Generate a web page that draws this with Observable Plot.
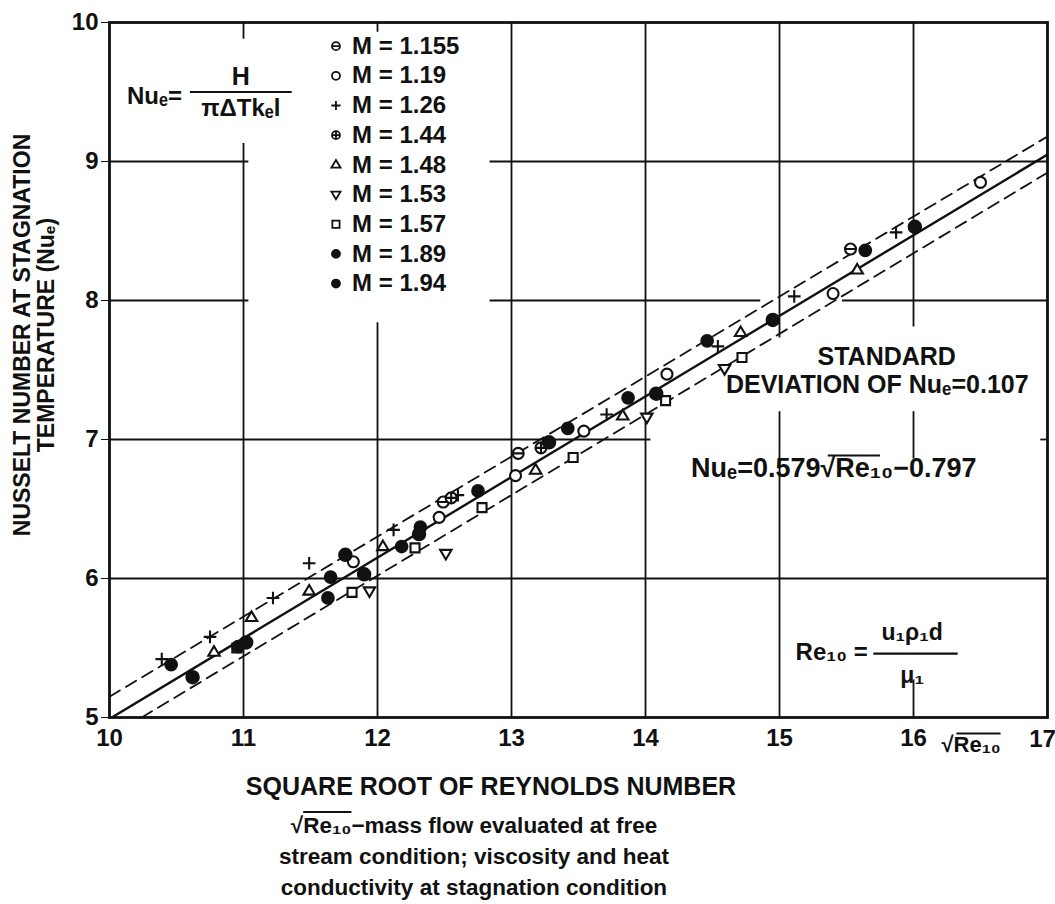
<!DOCTYPE html>
<html>
<head>
<meta charset="utf-8">
<script src="https://cdn.jsdelivr.net/npm/d3@7"></script>
<script src="https://cdn.jsdelivr.net/npm/@observablehq/plot@0.6"></script>
<style>
  body { margin: 0; background: #fff; }
  #wrap { position: relative; width: 1055px; height: 904px; }
  .below { position: absolute; left: 0; text-align: center; color: #111;
           font-family: "Liberation Sans", Arial, sans-serif; font-weight: bold; }
  #xtitle { top: 772px; width: 982px; font-size: 25px; line-height: 28px; }
  #note { top: 810px; width: 948px; font-size: 22.5px; line-height: 31px; }
  .ov { text-decoration: overline; }
</style>
</head>
<body>
<div id="wrap">
  <div id="chart"></div>
  <div class="below" id="xtitle">SQUARE ROOT OF REYNOLDS NUMBER</div>
  <div class="below" id="note">√<span class="ov">Re₁₀</span>−mass flow evaluated at free<br>stream condition; viscosity and heat<br>conductivity at stagnation condition</div>
</div>
<script>
// ---------- data ----------
const xTicks = [10, 11, 12, 13, 14, 15, 16];
const xLastTick = 17;
const yTicks = [5, 6, 7, 8, 9, 10];

const m1155x = [12.49, 13.05, 15.53];
const m1155y = [6.55, 6.90, 8.37];
const m119x = [11.82, 12.46, 13.03, 13.54, 14.16, 15.40, 16.50];
const m119y = [6.12, 6.44, 6.74, 7.06, 7.47, 8.05, 8.85];
const m126x = [10.39, 10.75, 11.22, 11.49, 12.12, 12.60, 13.71, 14.54, 15.11, 15.87];
const m126y = [5.42, 5.58, 5.86, 6.11, 6.35, 6.60, 7.18, 7.67, 8.03, 8.49];
const m144x = [12.55, 13.22];
const m144y = [6.58, 6.94];
const m148x = [10.78, 11.06, 11.49, 12.04, 13.18, 13.83, 14.71, 15.58];
const m148y = [5.47, 5.72, 5.91, 6.23, 6.78, 7.17, 7.77, 8.22];
const m153x = [11.94, 12.51, 14.01, 14.59];
const m153y = [5.91, 6.18, 7.16, 7.51];
const m157x = [10.95, 11.81, 12.28, 12.78, 13.46, 14.15, 14.72];
const m157y = [5.50, 5.90, 6.22, 6.51, 6.87, 7.28, 7.59];
const m189x = [10.46, 10.96, 11.63, 11.65, 12.18, 12.32, 12.75, 13.42, 13.87, 14.46, 15.64];
const m189y = [5.38, 5.51, 5.86, 6.01, 6.23, 6.37, 6.63, 7.08, 7.30, 7.71, 8.36];
const m194x = [10.62, 11.02, 11.76, 11.90, 12.31, 13.28, 14.08, 14.95, 16.01];
const m194y = [5.29, 5.54, 6.17, 6.03, 6.32, 6.98, 7.33, 7.86, 8.53];

const machLabels = ["M = 1.155", "M = 1.19", "M = 1.26", "M = 1.44", "M = 1.48", "M = 1.53", "M = 1.57", "M = 1.89", "M = 1.94"];

// correlation line Nu = 0.579 sqrt(Re) - 0.797 and its scatter band
const fitX = [10, 17];
const fitY = [4.99, 9.05];
const upperX = [10, 17];
const upperY = [5.15, 9.18];
const lowerX = [10.24, 17];
const lowerY = [5.0, 8.92];

// ---------- custom symbols ----------
const R = s => Math.sqrt(s / Math.PI);
const symCircleBar = { draw(c, s) { const r = R(s); c.moveTo(r, 0); c.arc(0, 0, r, 0, 2 * Math.PI); c.moveTo(-r, 0); c.lineTo(r, 0); } };
const symCirclePlus = { draw(c, s) { const r = R(s); c.moveTo(r, 0); c.arc(0, 0, r, 0, 2 * Math.PI); c.moveTo(-r, 0); c.lineTo(r, 0); c.moveTo(0, -r); c.lineTo(0, r); } };
const symCircle = { draw(c, s) { const r = R(s); c.moveTo(r, 0); c.arc(0, 0, r, 0, 2 * Math.PI); } };
const symPlus = { draw(c, s) { const r = R(s) * 1.15; c.moveTo(-r, 0); c.lineTo(r, 0); c.moveTo(0, -r); c.lineTo(0, r); } };
const symTriUp = { draw(c, s) { const r = R(s) * 1.2; c.moveTo(0, -r); c.lineTo(r * 0.95, r * 0.6); c.lineTo(-r * 0.95, r * 0.6); c.closePath(); } };
const symTriDown = { draw(c, s) { const r = R(s) * 1.2; c.moveTo(0, r); c.lineTo(r * 0.95, -r * 0.6); c.lineTo(-r * 0.95, -r * 0.6); c.closePath(); } };
const symSquare = { draw(c, s) { const r = R(s) * 0.9; c.rect(-r, -r, 2 * r, 2 * r); } };

const series = [
  { xs: m1155x, ys: m1155y, sym: symCircleBar, fill: "white", r: 5.5 },
  { xs: m119x, ys: m119y, sym: symCircle, fill: "white", r: 5.5 },
  { xs: m126x, ys: m126y, sym: symPlus, fill: "none", r: 5.5 },
  { xs: m144x, ys: m144y, sym: symCirclePlus, fill: "white", r: 5.5 },
  { xs: m148x, ys: m148y, sym: symTriUp, fill: "white", r: 5 },
  { xs: m153x, ys: m153y, sym: symTriDown, fill: "white", r: 5 },
  { xs: m157x, ys: m157y, sym: symSquare, fill: "white", r: 5 },
  { xs: m189x, ys: m189y, sym: symCircle, fill: "#111", r: 5.8 },
  { xs: m194x, ys: m194y, sym: symCircle, fill: "#111", r: 6.2 }
];

// ---------- grid (drafted with gaps around lettering) ----------
const vGrid = [
  { x: 11, y1: 5, y2: 9.13 }, { x: 11, y1: 9.88, y2: 10 },
  { x: 12, y1: 5, y2: 7.84 }, { x: 12, y1: 9.93, y2: 10 },
  { x: 13, y1: 5, y2: 10 }, { x: 14, y1: 5, y2: 10 },
  { x: 15, y1: 7.73, y2: 10 }, { x: 15, y1: 5, y2: 7.2 },
  { x: 16, y1: 7.81, y2: 10 }, { x: 16, y1: 6.86, y2: 7.2 }, { x: 16, y1: 5, y2: 5.27 }
];
const hGrid = [
  { y: 9, x1: 10, x2: 11.04 }, { y: 9, x1: 12.84, x2: 17 },
  { y: 8, x1: 10, x2: 11.04 }, { y: 8, x1: 12.84, x2: 14.86 }, { y: 8, x1: 15.47, x2: 17 },
  { y: 7, x1: 10, x2: 14.04 }, { y: 7, x1: 16.95, x2: 17 },
  { y: 6, x1: 10, x2: 17 }
];

const ink = "#111";
const font = "'Liberation Sans', Arial, sans-serif";

const pts = (s) => s.xs.map((x, i) => ({ x, y: s.ys[i] }));
const line = (xs, ys) => xs.map((x, i) => ({ x, y: ys[i] }));

// legend rows
const legTop = 9.83, legStep = 0.2135;
const legend = machLabels.map((t, i) => ({ t, i, y: legTop - i * legStep }));

const marks = [
  Plot.ruleX(vGrid, { x: "x", y1: "y1", y2: "y2", stroke: ink, strokeWidth: 1.8 }),
  Plot.ruleY(hGrid, { y: "y", x1: "x1", x2: "x2", stroke: ink, strokeWidth: 1.8 }),
  Plot.frame({ stroke: ink, strokeWidth: 2.8 }),
  Plot.line(line(upperX, upperY), { x: "x", y: "y", stroke: ink, strokeWidth: 1.8, strokeDasharray: "12,7" }),
  Plot.line(line(lowerX, lowerY), { x: "x", y: "y", stroke: ink, strokeWidth: 1.8, strokeDasharray: "12,7" }),
  Plot.line(line(fitX, fitY), { x: "x", y: "y", stroke: ink, strokeWidth: 2.4, clip: true }),
];
for (const s of series) {
  marks.push(Plot.dot(pts(s), { x: "x", y: "y", symbol: s.sym, r: s.r, fill: s.fill, stroke: ink, strokeWidth: 2.1 }));
}
// legend symbols + labels
series.forEach((s, i) => {
  marks.push(Plot.dot([legend[i]], { x: () => 11.69, y: "y", symbol: s.sym, r: 4, fill: s.fill, stroke: ink, strokeWidth: 1.8 }));
});
marks.push(Plot.text(legend, { x: () => 11.81, y: "y", text: "t", textAnchor: "start", fontSize: 24, fontWeight: "bold", fill: ink }));

// last x tick label, nudged inside the page edge
marks.push(Plot.text([xLastTick], { x: d => d, y: () => 5, dy: 22, dx: -5, fontSize: 24, fontWeight: "bold", fill: ink, text: d => String(d) }));

// Nusselt definition
marks.push(
  Plot.text(["Nuₑ="], { x: () => 10.13, y: () => 9.47, textAnchor: "start", fontSize: 24, fontWeight: "bold", fill: ink }),
  Plot.text(["H"], { x: () => 10.98, y: () => 9.61, fontSize: 25, fontWeight: "bold", fill: ink }),
  Plot.link([{ x1: 10.6, x2: 11.36, y: 9.5 }], { x1: "x1", x2: "x2", y1: "y", y2: "y", stroke: ink, strokeWidth: 2.2 }),
  Plot.text(["πΔTkₑl"], { x: () => 10.98, y: () => 9.38, fontSize: 24, fontWeight: "bold", fill: ink }),
  // standard deviation note
  Plot.text(["STANDARD"], { x: () => 15.80, y: () => 7.59, fontSize: 25, fontWeight: "bold", fill: ink }),
  Plot.text(["DEVIATION OF Nuₑ=0.107"], { x: () => 14.60, y: () => 7.39, textAnchor: "start", fontSize: 25, fontWeight: "bold", fill: ink }),
  // correlation
  Plot.text(["Nuₑ=0.579√Re₁₀−0.797"], { x: () => 14.34, y: () => 6.79, textAnchor: "start", fontSize: 27, fontWeight: "bold", fill: ink }),
  Plot.link([{ x1: 15.36, x2: 15.75, y: 6.885 }], { x1: "x1", x2: "x2", y1: "y", y2: "y", stroke: ink, strokeWidth: 2 }),
  // Reynolds definition
  Plot.text(["Re₁₀ ="], { x: () => 15.12, y: () => 5.47, textAnchor: "start", fontSize: 24, fontWeight: "bold", fill: ink }),
  Plot.text(["u₁ρ₁d"], { x: () => 15.99, y: () => 5.61, fontSize: 23, fontWeight: "bold", fill: ink }),
  Plot.link([{ x1: 15.70, x2: 16.33, y: 5.46 }], { x1: "x1", x2: "x2", y1: "y", y2: "y", stroke: ink, strokeWidth: 2.2 }),
  Plot.text(["μ₁"], { x: () => 15.99, y: () => 5.30, fontSize: 23, fontWeight: "bold", fill: ink }),
  // axis tag with radical bar
  Plot.text(["√Re₁₀"], { x: () => 16.43, y: () => 4.80, fontSize: 22, fontWeight: "bold", fill: ink }),
  Plot.link([{ x1: 16.32, x2: 16.65, y: 4.885 }], { x1: "x1", x2: "x2", y1: "y", y2: "y", stroke: ink, strokeWidth: 1.8 }),
  // y axis title
  Plot.text(["NUSSELT NUMBER AT STAGNATION\nTEMPERATURE (Nuₑ)"], {
    frameAnchor: "left", textAnchor: "middle", dx: -75, dy: -35, rotate: -90, fontSize: 23, fontWeight: "bold",
    lineHeight: 1.05, fill: ink
  })
);

const chart = Plot.plot({
  width: 1055, height: 760,
  marginLeft: 109, marginRight: 8, marginTop: 22, marginBottom: 43,
  x: { domain: [10, 17], ticks: xTicks, tickSize: 0, tickPadding: 11, tickFormat: d => String(d), label: null },
  y: { domain: [5, 10], ticks: yTicks, tickSize: 8, tickPadding: 3, tickFormat: d => String(d), label: null },
  style: { fontFamily: font, fontSize: "24px", fontWeight: "bold", color: ink, background: "#fff", overflow: "visible" },
  marks
});
document.getElementById("chart").appendChild(chart);
</script>
</body>
</html>
